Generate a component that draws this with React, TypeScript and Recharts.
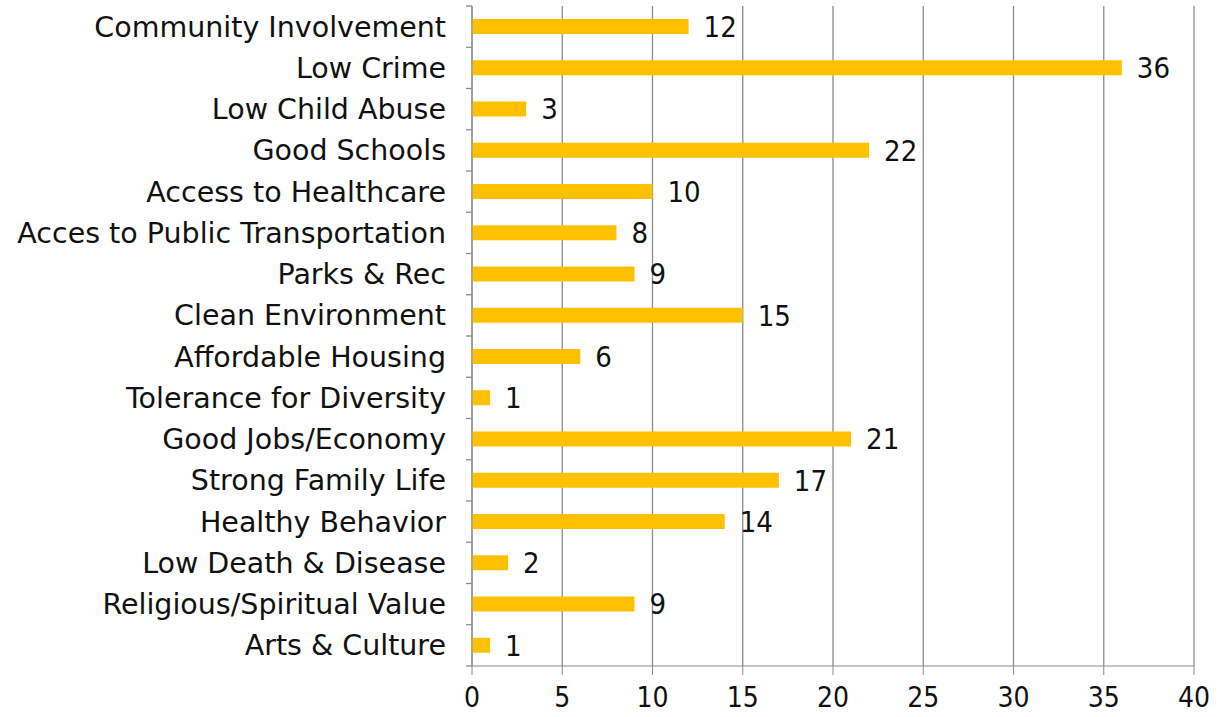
import React from 'react';
import { BarChart, Bar, XAxis, YAxis, CartesianGrid, LabelList } from 'recharts';

const categories = [
  'Community Involvement',
  'Low Crime',
  'Low Child Abuse',
  'Good Schools',
  'Access to Healthcare',
  'Acces to Public Transportation',
  'Parks & Rec',
  'Clean Environment',
  'Affordable Housing',
  'Tolerance for Diversity',
  'Good Jobs/Economy',
  'Strong Family Life',
  'Healthy Behavior',
  'Low Death & Disease',
  'Religious/Spiritual Value',
  'Arts & Culture',
];
const counts = [12, 36, 3, 22, 10, 8, 9, 15, 6, 1, 21, 17, 14, 2, 9, 1];
const xTicks = [0, 5, 10, 15, 20, 25, 30, 35, 40];

const data = categories.map((name, i) => ({ name, value: counts[i] }));

const FONT = '"DejaVu Sans", Verdana, sans-serif';
const NUM_FONT = '"DejaVu Sans Condensed", "DejaVu Sans", sans-serif';
const AXIS = '#8c8c8c';

// category label plus the small tick marks between bands
const CategoryTick = (props: any) => {
  const { x, y, payload, index } = props;
  const half = payload && payload.offset ? payload.offset : 20.6;
  const ax = x + 20;
  return (
    <g>
      <line x1={ax} x2={ax + 6} y1={y - half} y2={y - half} stroke={AXIS} strokeWidth={1.3} />
      {index === categories.length - 1 && (
        <line x1={ax} x2={ax + 6} y1={y + half} y2={y + half} stroke={AXIS} strokeWidth={1.3} />
      )}
      <text x={x} y={y} dy={10} textAnchor="end" fontSize={28.5} fontFamily={FONT} fill="#111">
        {payload.value}
      </text>
    </g>
  );
};

const App: React.FC = () => {
  return (
    <div style={{ position: 'absolute', left: 0, top: 0, background: '#fff' }}>
      <BarChart
        width={1220}
        height={717}
        data={data}
        layout="vertical"
        margin={{ top: 6, right: 26, left: 0, bottom: 0 }}
        barCategoryGap={0}
      >
        <CartesianGrid horizontal={false} stroke={AXIS} strokeWidth={1.3} />
        <XAxis
          type="number"
          domain={[0, 40]}
          ticks={xTicks}
          height={51}
          stroke={AXIS}
          tickSize={9}
          tickMargin={12}
          tick={{ fontSize: 28, fontFamily: NUM_FONT, fill: '#111' }}
        />
        <YAxis
          type="category"
          dataKey="name"
          width={472}
          stroke={AXIS}
          tickLine={false}
          tickSize={6}
          tickMargin={20}
          interval={0}
          tick={<CategoryTick />}
        />
        <Bar dataKey="value" fill="#FFC000" barSize={15} isAnimationActive={false}>
          <LabelList
            dataKey="value"
            position="right"
            offset={15}
            fontSize={29}
            fontFamily={NUM_FONT}
            fill="#111"
          />
        </Bar>
      </BarChart>
    </div>
  );
};

export default App;
